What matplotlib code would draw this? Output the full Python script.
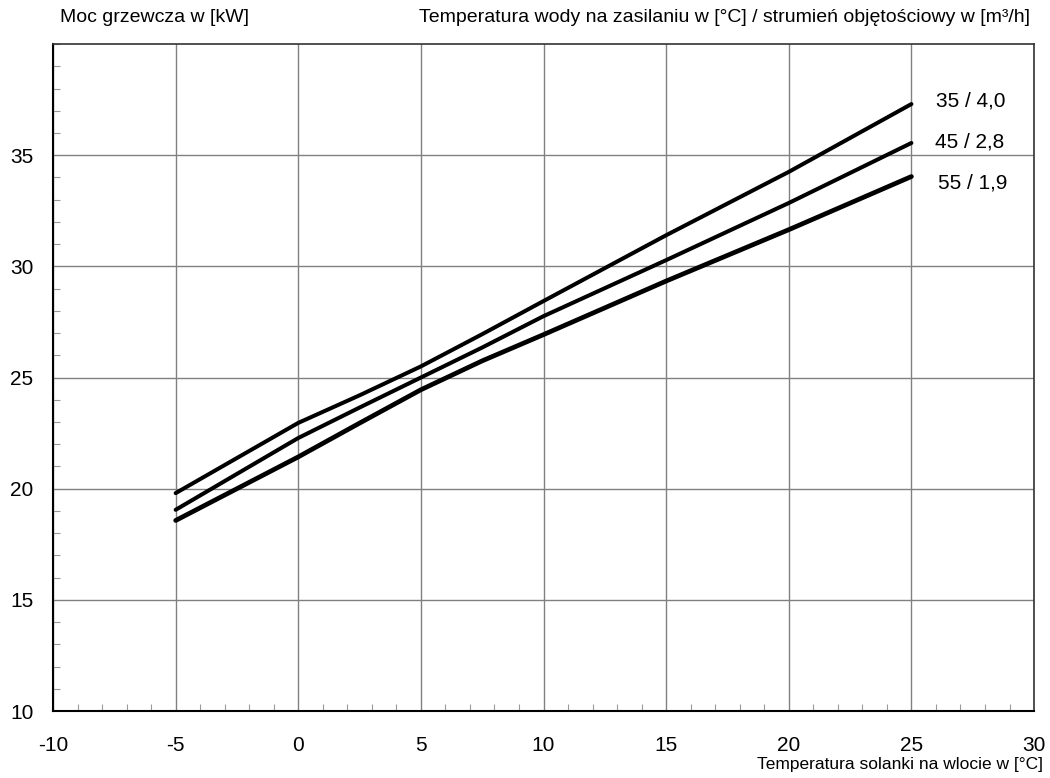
import matplotlib.pyplot as plt
from matplotlib.ticker import MultipleLocator

plt.rcParams['font.family'] = ['Liberation Sans', 'DejaVu Sans']
plt.rcParams['axes.unicode_minus'] = False

# brine inlet temperature [°C]
temp = [-5, 0, 2.5, 5, 7.5, 10, 15, 20, 25]

# heating output [kW] per flow temperature / volume flow
p35 = [19.8, 22.96, 24.2, 25.5, 26.95, 28.44, 31.4, 34.25, 37.3]
p45 = [19.05, 22.28, 23.65, 25.0, 26.35, 27.76, 30.28, 32.85, 35.55]
p55 = [18.57, 21.43, 22.95, 24.45, 25.75, 26.93, 29.34, 31.65, 34.04]

labels = ['35 / 4,0', '45 / 2,8', '55 / 1,9']

fig = plt.figure(figsize=(10.5, 7.78), dpi=100)
ax = fig.add_axes([0.0505, 0.0861, 0.9343, 0.8573])

for vals, lw in zip([p35, p45, p55], [2.9, 2.9, 3.4]):
    ax.plot(temp, vals, color='black', lw=lw, solid_capstyle='round',
            solid_joinstyle='round', zorder=3)

ax.set_xlim(-10, 30)
ax.set_ylim(10, 40)
ax.set_xticks(range(-10, 31, 5))
ax.set_yticks(range(10, 36, 5))
ax.xaxis.set_minor_locator(MultipleLocator(1))
ax.yaxis.set_minor_locator(MultipleLocator(1))
ax.tick_params(which='major', length=0, labelsize=15)
ax.tick_params(axis='x', which='major', pad=18)
ax.tick_params(axis='y', which='major', pad=14)
ax.tick_params(which='minor', direction='in', length=5, width=0.8, color='#999999')
ax.grid(True, which='major', color='#808080', lw=1)

for side in ['left', 'bottom']:
    ax.spines[side].set_linewidth(1.5)
    ax.spines[side].set_color('black')
for side in ['top', 'right']:
    ax.spines[side].set_linewidth(1.2)
    ax.spines[side].set_color('#333333')

# curve labels at the right end
ax.text(26.0, 37.45, labels[0], fontsize=15, va='center', ha='left')
ax.text(25.95, 35.6, labels[1], fontsize=15, va='center', ha='left')
ax.text(26.1, 33.75, labels[2], fontsize=15, va='center', ha='left')

fig.text(60 / 1050, 1 - 18 / 778, 'Moc grzewcza w [kW]', fontsize=14, va='center', ha='left')
fig.text(1030 / 1050, 1 - 18 / 778,
         'Temperatura wody na zasilaniu w [°C] / strumień objętościowy w [m³/h]',
         fontsize=14, va='center', ha='right')
fig.text(1043 / 1050, 1 - 765 / 778, 'Temperatura solanki na wlocie w [°C]',
         fontsize=12.5, va='center', ha='right')

fig.savefig('out.png', dpi=100)
